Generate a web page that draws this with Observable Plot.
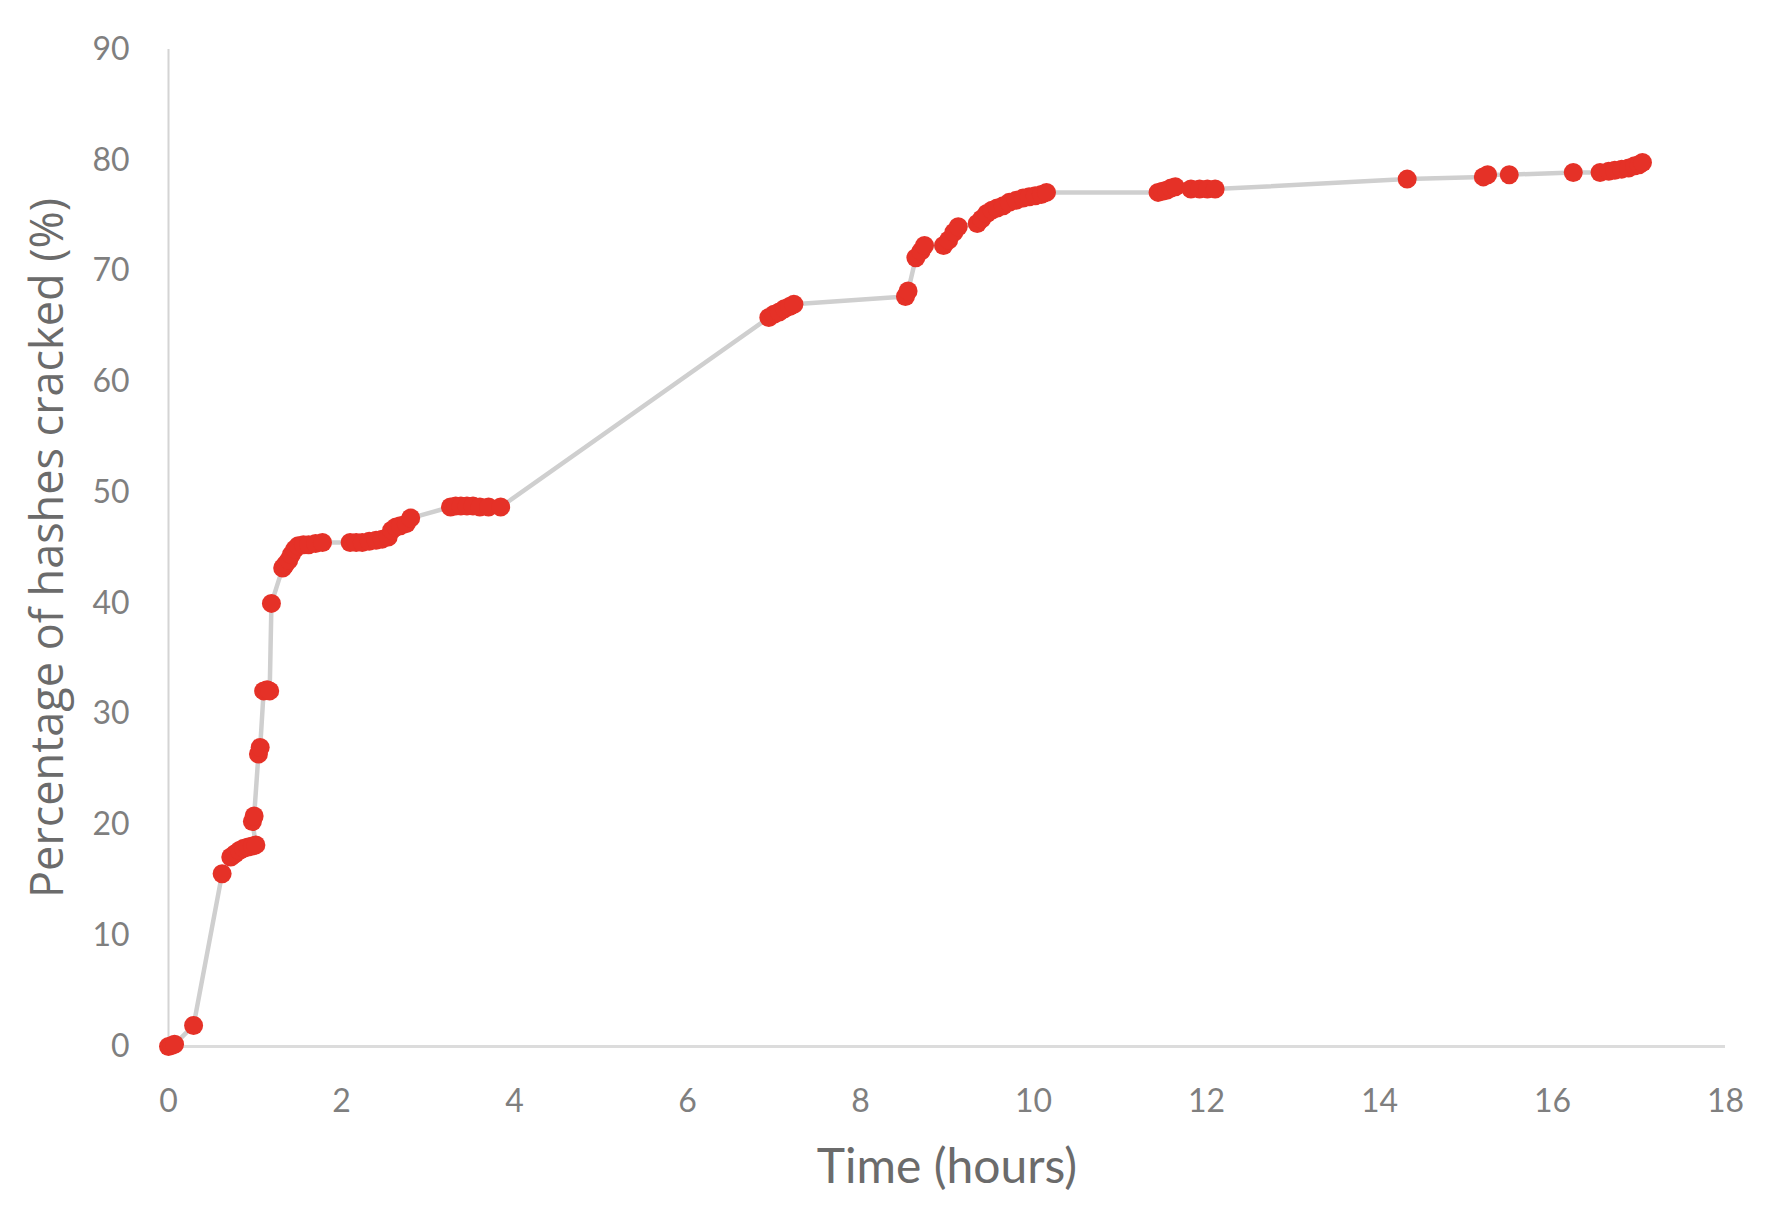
<!DOCTYPE html>
<html>
<head>
<meta charset="utf-8">
<script src="https://cdn.jsdelivr.net/npm/d3@7"></script>
<script src="https://cdn.jsdelivr.net/npm/@observablehq/plot@0.6"></script>
<style>
  html, body { margin: 0; padding: 0; background: #ffffff; }
  #chart { width: 1786px; height: 1218px; }
</style>
</head>
<body>
<div id="chart"></div>
<script>
// Time (hours) of each observation
const hours = [
  0, 0.04, 0.07, 0.29, 0.62,
  0.72, 0.77, 0.82, 0.87, 0.92, 0.97, 1.01,
  0.97, 0.99, 1.04, 1.06, 1.10, 1.14, 1.17, 1.19,
  1.32, 1.35, 1.39, 1.42, 1.46, 1.50, 1.56, 1.62, 1.70, 1.78,
  2.10, 2.17, 2.24, 2.32, 2.40, 2.47, 2.54, 2.58, 2.63, 2.68, 2.75, 2.80,
  3.26, 3.32, 3.38, 3.45, 3.52, 3.60, 3.70, 3.84,
  6.94, 7.00, 7.06, 7.12, 7.18, 7.23,
  8.52, 8.55, 8.64, 8.70, 8.74,
  8.96, 9.02, 9.08, 9.13,
  9.35, 9.40, 9.46, 9.52, 9.58, 9.65, 9.72, 9.80, 9.88, 9.95, 10.02, 10.09, 10.15,
  11.44, 11.49, 11.54, 11.59, 11.64,
  11.82, 11.92, 12.01, 12.10,
  14.32, 15.20, 15.25, 15.50, 16.24,
  16.55, 16.65, 16.72, 16.80, 16.88, 16.95, 17.00, 17.04
];
// Percentage of hashes cracked at each observation
const cracked = [
  0, 0.1, 0.2, 1.9, 15.6,
  17.1, 17.4, 17.7, 17.9, 18.0, 18.1, 18.2,
  20.3, 20.8, 26.4, 27.0, 32.1, 32.2, 32.1, 40.0,
  43.2, 43.5, 43.9, 44.4, 44.9, 45.2, 45.3, 45.3, 45.4, 45.5,
  45.5, 45.5, 45.5, 45.6, 45.7, 45.8, 46.0, 46.6, 46.9, 47.0, 47.2, 47.7,
  48.7, 48.8, 48.8, 48.8, 48.8, 48.7, 48.7, 48.7,
  65.8, 66.1, 66.3, 66.6, 66.8, 67.0,
  67.7, 68.2, 71.2, 71.8, 72.3,
  72.3, 72.8, 73.5, 74.0,
  74.3, 74.7, 75.2, 75.5, 75.7, 75.9, 76.2, 76.4, 76.6, 76.7, 76.8, 76.9, 77.1,
  77.1, 77.2, 77.3, 77.5, 77.6,
  77.4, 77.4, 77.4, 77.4,
  78.3, 78.5, 78.7, 78.7, 78.9,
  78.9, 79.0, 79.1, 79.2, 79.3, 79.5, 79.6, 79.8
];
const xTicks = [0, 2, 4, 6, 8, 10, 12, 14, 16, 18];
const yTicks = [0, 10, 20, 30, 40, 50, 60, 70, 80, 90];
const xTitle = "Time (hours)";
const yTitle = "Percentage of hashes cracked (%)";

const data = hours.map((h, i) => ({hours: h, cracked: cracked[i]}));

const chart = Plot.plot({
  width: 1786,
  height: 1218,
  marginLeft: 168,
  marginRight: 61,
  marginTop: 49,
  marginBottom: 172,
  style: {background: "#ffffff", fontFamily: "Lato, 'Open Sans', sans-serif"},
  x: {domain: [0, 18], ticks: xTicks},
  y: {domain: [0, 90], ticks: yTicks},
  marks: [
    Plot.ruleX([0], {stroke: "#d4d4d4", strokeWidth: 2}),
    Plot.ruleY([0], {stroke: "#dcdcdc", strokeWidth: 3}),
    Plot.axisX({ticks: xTicks, tickSize: 0, tickPadding: 43, fontSize: 32, fill: "#7f7f7f", label: null}),
    Plot.axisY({ticks: yTicks, tickSize: 0, tickPadding: 39, fontSize: 32, fill: "#7f7f7f", label: null}),
    Plot.line(data, {x: "hours", y: "cracked", stroke: "#cfcfcf", strokeWidth: 4.5}),
    Plot.dot(data, {x: "hours", y: "cracked", r: 9.5, fill: "#e53127", stroke: "none"}),
    Plot.text([xTitle], {frameAnchor: "bottom", dy: 136, text: d => d, fontSize: 48, fill: "#6b6b6b", fontFamily: "Lato, sans-serif"}),
    Plot.text([yTitle], {frameAnchor: "left", textAnchor: "middle", dx: -120, rotate: -90, text: d => d, fontSize: 45, fill: "#6b6b6b", fontFamily: "'Open Sans', sans-serif"})
  ]
});
document.getElementById("chart").appendChild(chart);
</script>
</body>
</html>
